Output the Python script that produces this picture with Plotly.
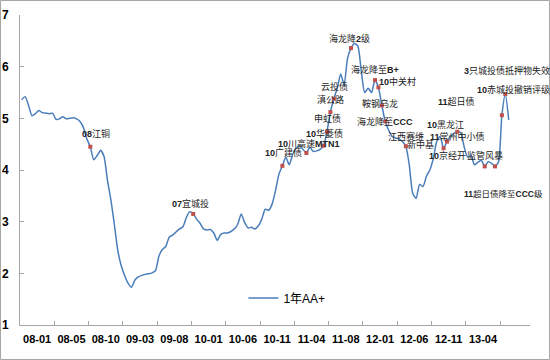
import plotly.graph_objects as go

# ---- data ----
series_name = "1年AA+"
values = [
    5.36, 5.42, 5.25, 5.05, 5.09, 5.15, 5.11, 5.10, 5.09, 5.10,
    4.98, 4.99, 5.03, 4.99, 5.00, 5.01, 4.99, 4.94, 4.82, 4.60,
    4.45, 4.20, 4.28, 4.38, 4.26, 3.80, 3.42, 2.95, 2.45, 2.15,
    1.96, 1.81, 1.73, 1.87, 1.93, 1.96, 1.98, 1.99, 2.01, 2.05,
    2.33, 2.46, 2.52, 2.70, 2.74, 2.80, 2.86, 2.90, 3.08, 3.19,
    3.15, 3.05, 2.97, 2.86, 2.84, 2.85, 2.78, 2.64, 2.75, 2.78,
    2.78, 2.81, 2.86, 2.95, 3.15, 2.98, 2.88, 2.89, 2.86, 2.92,
    3.05, 3.24, 3.22, 3.34, 3.60, 3.92, 4.08, 4.25, 4.10, 4.30,
    4.42, 4.47, 4.40, 4.33, 4.44, 4.36, 4.37, 4.40, 4.47, 4.74,
    5.12, 5.38, 5.58, 5.86, 5.65, 6.16, 6.36, 6.45, 6.40, 5.92,
    5.50, 5.58, 5.50, 5.74, 5.60, 5.25, 4.94, 4.77, 4.65, 4.62,
    4.60, 4.55, 4.46, 4.10, 3.55, 3.45, 3.72, 3.68, 3.88, 4.00,
    4.22, 4.55, 4.65, 4.42, 4.55, 4.65, 4.71, 4.74, 4.72, 4.45,
    4.25, 4.28, 4.10, 4.15, 4.19, 4.07, 4.16, 4.13, 4.07, 4.15,
    5.06, 5.47, 4.97,
]
tick_labels = ["08-01", "08-05", "08-10", "09-03", "09-08", "10-01", "10-06",
               "10-11", "11-04", "11-08", "12-01", "12-06", "12-11", "13-04"]
points_per_label = 10

marker_idx = [20, 50, 76, 83, 88, 89, 90, 91, 96, 103, 104, 105, 106, 112,
              123, 124, 127, 135, 138, 140, 141]

# event labels: (text, x in category index units, y value)
event_texts = ["<b>08</b>江铜", "<b>07</b>宜城投", "<b>10</b>广建债", "<b>10</b>川高速<b>MTN1</b>",
               "<b>10</b>华菱债", "申虹债", "滇公路", "云投债", "海龙降<b>2</b>级",
               "海龙降至<b>B+</b>", "<b>10</b>中关村", "鞍钢乌龙", "海龙降至<b>CCC</b>",
               "江西赛维", "新中基", "<b>10</b>京经开", "<b>11</b>常州中小债", "<b>10</b>黑龙江",
               "<b>11</b>超日债", "监管风暴", "<b>3</b>只城投债抵押物失效",
               "<b>10</b>赤城投撤销评级", "<b>11</b>超日债降至<b>CCC</b>级"]
event_x = [21.7, 49.2, 76.2, 83.8, 88.2, 89.3, 90.1, 91.2, 95.6, 102.9, 109.7,
           104.4, 105.9, 112.0, 116.3, 124.2, 127.2, 123.5, 126.7, 135.1, 141.5,
           143.3, 140.4]
event_y = [4.70, 3.36, 4.33, 4.52, 4.70, 4.99, 5.37, 5.61, 6.55, 5.94, 5.72,
           5.28, 4.93, 4.64, 4.49, 4.29, 4.64, 4.89, 5.32, 4.29, 5.92, 5.55, 3.54]

# ---- figure ----
FONT = "Liberation Sans, Arial, Noto Sans CJK SC, sans-serif"
n_groups = len(tick_labels)
xs = list(range(len(values)))
x_max = n_groups * points_per_label + 8.7 - 0.5

fig = go.Figure()
fig.add_trace(go.Scatter(
    x=xs, y=values, mode="lines", name=series_name,
    line=dict(color="#4a7ebb", width=1.5, shape="spline", smoothing=0.6),
))
fig.add_trace(go.Scatter(
    x=marker_idx, y=[values[i] for i in marker_idx], mode="markers",
    marker=dict(color="#c0504d", size=4, symbol="square"),
    showlegend=False, hoverinfo="skip",
))

for t, ex, ey in zip(event_texts, event_x, event_y):
    small = "CCC</b>级" in t
    fig.add_annotation(x=ex, y=ey, text=t, showarrow=False,
                       xanchor="center", yanchor="middle",
                       font=dict(family=FONT, size=8.5 if small else 9, color="#222222"))

centers = [g * points_per_label + (points_per_label - 1) / 2 for g in range(n_groups)]
bounds = [g * points_per_label - 0.5 for g in range(1, n_groups + 1)]

fig.update_layout(
    width=550, height=360,
    margin=dict(l=20, r=20, t=15, b=35, autoexpand=False),
    paper_bgcolor="white", plot_bgcolor="white",
    font=dict(family=FONT, color="black"),
    showlegend=True,
    legend=dict(x=0.438, y=0.087, xanchor="left", yanchor="middle",
                font=dict(family=FONT, size=12, color="black"),
                bgcolor="rgba(0,0,0,0)", itemwidth=30),
    xaxis=dict(
        range=[-0.5, x_max], showgrid=False, zeroline=False, automargin=False,
        showline=True, linecolor="#a6a6a6", linewidth=1,
        tickmode="array", tickvals=centers,
        ticktext=["<b>%s</b>" % s for s in tick_labels],
        ticks="", tickfont=dict(family=FONT, size=11, color="black"),
        ticklabelstandoff=4,
        minor=dict(tickmode="array", tickvals=bounds, ticks="inside",
                   ticklen=4, tickcolor="#a6a6a6", showgrid=False),
    ),
    yaxis=dict(
        range=[1, 7], showgrid=False, zeroline=False, automargin=False,
        showline=True, linecolor="#a6a6a6", linewidth=1,
        tickmode="array", tickvals=[1, 2, 3, 4, 5, 6, 7],
        ticktext=["<b>%d</b>" % v for v in range(1, 8)],
        ticks="inside", ticklen=4, tickcolor="#a6a6a6",
        tickfont=dict(family=FONT, size=12, color="black"),
        ticklabelstandoff=8,
    ),
)

# outer chart frame
fig.add_shape(type="rect", xref="paper", yref="paper",
              x0=(0.5 - 20) / 510, x1=(549.5 - 20) / 510,
              y0=(325 - 359.5) / 310, y1=(325 - 0.5) / 310,
              line=dict(color="#a6a6a6", width=1), fillcolor="rgba(0,0,0,0)",
              layer="below")

fig.write_html("out.html", config={"displayModeBar": False},
               post_script="document.body.style.margin='0';")
